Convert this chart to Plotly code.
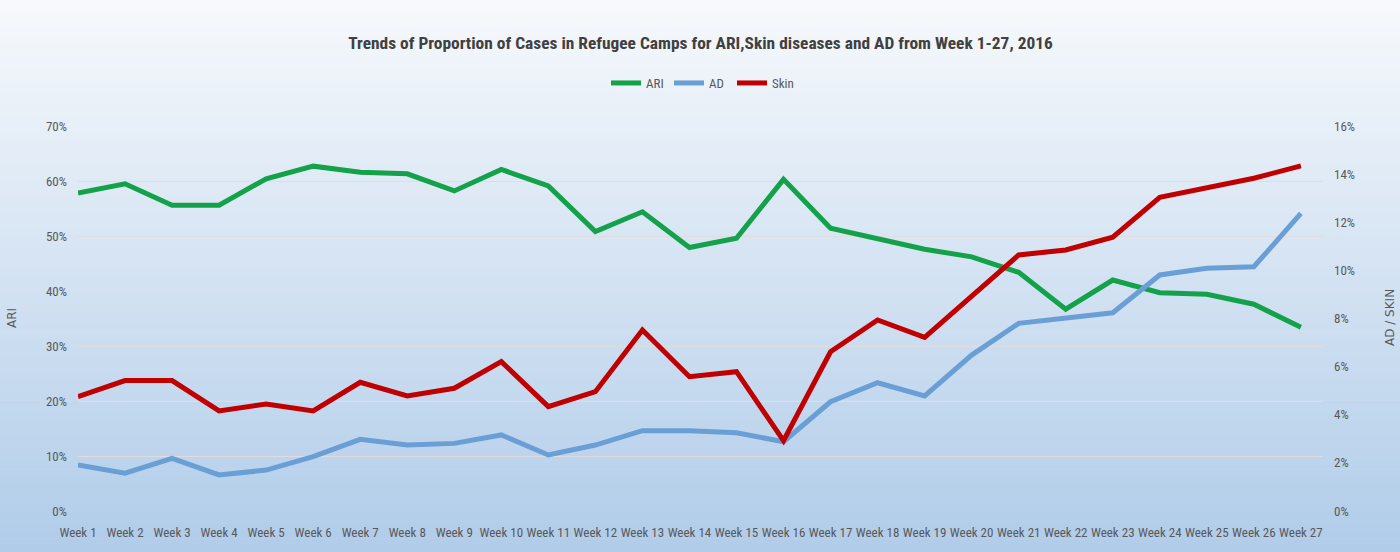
import plotly.graph_objects as go

weeks = [f"Week {i}" for i in range(1, 28)]

ari = [57.8, 59.5, 55.6, 55.6, 60.4, 62.7, 61.6, 61.3, 58.2, 62.1, 59.1, 50.8, 54.4, 47.9,
       49.6, 60.3, 51.4, 49.4, 47.6, 46.2, 43.4, 36.7, 42.0, 39.7, 39.4, 37.6, 33.4]
ad = [1.91, 1.57, 2.19, 1.50, 1.70, 2.26, 2.98, 2.74, 2.81, 3.16, 2.33, 2.74, 3.34, 3.34,
      3.25, 2.88, 4.54, 5.33, 4.78, 6.48, 7.80, 8.01, 8.24, 9.81, 10.09, 10.15, 12.37]
skin = [4.75, 5.42, 5.42, 4.16, 4.45, 4.16, 5.35, 4.78, 5.10, 6.21, 4.34, 4.96, 7.52, 5.58,
        5.79, 2.92, 6.62, 7.94, 7.22, 8.91, 10.64, 10.85, 11.38, 13.04, 13.45, 13.83, 14.34]

left_ticks = [0, 0.1, 0.2, 0.3, 0.4, 0.5, 0.6, 0.7]
right_ticks = [0, 0.02, 0.04, 0.06, 0.08, 0.10, 0.12, 0.14, 0.16]

FONT = "Liberation Sans Narrow, Roboto Condensed, DejaVu Sans Condensed, Arial Narrow, sans-serif"
GRAY = "#595959"
GREEN = "#13a24a"
BLUE = "#6a9fd6"
RED = "#c00000"

fig = go.Figure()
fig.add_trace(go.Scatter(x=weeks, y=[v / 100 for v in ari], name="ARI", mode="lines",
                         line=dict(color=GREEN, width=5), yaxis="y"))
fig.add_trace(go.Scatter(x=weeks, y=[v / 100 for v in ad], name="AD", mode="lines",
                         line=dict(color=BLUE, width=5), yaxis="y2"))
fig.add_trace(go.Scatter(x=weeks, y=[v / 100 for v in skin], name="Skin", mode="lines",
                         line=dict(color=RED, width=5), yaxis="y2"))

# vertical gradient background built from thin bands (paper coordinates)
W, H = 1400, 552
ml, mr, mt, mb = 78, 77, 126, 41
ph = H - mt - mb
pw = W - ml - mr
top_c = (247, 249, 252)
bot_c = (176, 204, 233)
n = 80
shapes = []
for i in range(n):
    t0 = i / n
    t1 = (i + 1) / n
    t = (i + 0.5) / n
    c = tuple(int(round(top_c[k] + (bot_c[k] - top_c[k]) * t)) for k in range(3))
    y_top_px = t0 * H
    y_bot_px = t1 * H + 0.6
    y0 = (H - mb - y_bot_px) / ph
    y1 = (H - mb - y_top_px) / ph
    shapes.append(dict(type="rect", xref="paper", yref="paper",
                       x0=-ml / pw - 0.01, x1=1 + mr / pw + 0.01,
                       y0=y0, y1=y1, fillcolor=f"rgb{c}", line=dict(width=0), layer="below"))

fig.update_layout(
    width=W, height=H,
    margin=dict(l=ml, r=mr, t=mt, b=mb, autoexpand=False),
    paper_bgcolor="#f7f9fc",
    plot_bgcolor="rgba(0,0,0,0)",
    shapes=shapes,
    font=dict(family=FONT, color=GRAY, size=13),
    title=dict(text="<b>Trends of Proportion of Cases in Refugee Camps for ARI,Skin diseases and AD from Week 1-27, 2016</b>",
               x=0.5, xanchor="center", xref="paper", y=1 - 43 / H, yanchor="middle", yref="container",
               font=dict(family=FONT, size=17.4, color="#404040")),
    legend=dict(orientation="h", x=0.5, xanchor="center", y=(H - mb - 83) / ph, yanchor="middle",
                bgcolor="rgba(0,0,0,0)", font=dict(family=FONT, size=13, color=GRAY),
                itemwidth=30, entrywidth=18, traceorder="normal"),
    xaxis=dict(type="category", range=[0, 26.47], tickmode="linear", tick0=0, dtick=1, tickangle=0,
               showgrid=False, zeroline=False, showline=False, ticks="",
               tickfont=dict(family=FONT, size=13, color=GRAY), ticklabelstandoff=12),
    yaxis=dict(range=[0, 0.7], tickvals=left_ticks, tickformat=".0%", showgrid=True,
               gridcolor="rgba(225,220,220,0.95)", gridwidth=1, zeroline=False, showline=False,
               tickfont=dict(family=FONT, size=13, color=GRAY), ticklabelstandoff=10),
    yaxis2=dict(range=[0, 0.16], tickvals=right_ticks, tickformat=".0%", overlaying="y", side="right",
                showgrid=False, zeroline=False, showline=False,
                tickfont=dict(family=FONT, size=13, color=GRAY), ticklabelstandoff=10),
    annotations=[
        dict(text="ARI", textangle=-90, x=(12 - ml) / pw, xref="paper", xanchor="center",
             y=(H - mb - 318) / ph, yref="paper", yanchor="middle",
             showarrow=False, font=dict(family="DejaVu Sans, sans-serif", size=12, color=GRAY)),
        dict(text="AD / SKIN", textangle=-90, x=(1390 - ml) / pw, xref="paper", xanchor="center",
             y=(H - mb - 318) / ph, yref="paper", yanchor="middle",
             showarrow=False, font=dict(family="DejaVu Sans, sans-serif", size=12, color=GRAY)),
    ],
)

fig.write_html("out.html", config={"displayModeBar": False},
               post_script="document.body.style.margin='0px';document.body.style.overflow='hidden';")
